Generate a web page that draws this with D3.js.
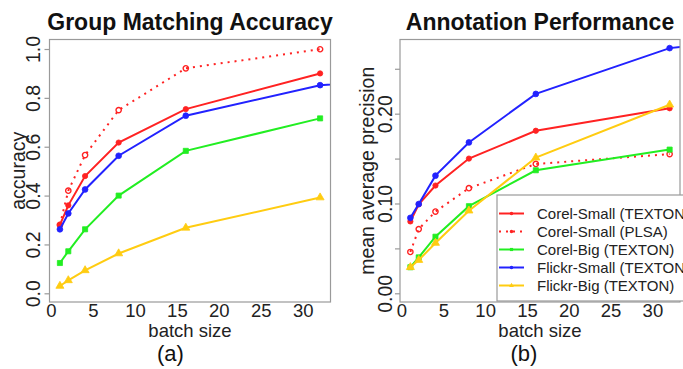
<!DOCTYPE html>
<html>
<head>
<meta charset="utf-8">
<script src="https://cdn.jsdelivr.net/npm/d3@7"></script>
<style>
  body { margin: 0; background: #fff; }
  text { font-family: "Liberation Sans", Arial, sans-serif; }
</style>
</head>
<body>
<div id="chart"></div>
<script>
// batch sizes on the x axis
const batchSizes = [1, 2, 4, 8, 16, 32];
const batchSizesExt = [1, 2, 4, 8, 16, 32, 64];

// (a) group matching accuracy
const accCorelSmallTexton = [0.28, 0.36, 0.48, 0.617, 0.754, 0.90];
const accCorelSmallPlsa = [0.28, 0.42, 0.566, 0.75, 0.921, 0.999];
const accCorelBigTexton = [0.124, 0.172, 0.262, 0.40, 0.583, 0.716];
const accFlickrSmallTexton = [0.262, 0.327, 0.425, 0.563, 0.727, 0.852, 0.908];
const accFlickrBigTexton = [0.03, 0.053, 0.094, 0.163, 0.268, 0.392];

// (b) annotation performance (mean average precision)
const mapCorelSmallTexton = [0.080, 0.099, 0.120, 0.150, 0.181, 0.206];
const mapCorelSmallPlsa = [0.046, 0.0715, 0.091, 0.117, 0.144, 0.155];
const mapCorelBigTexton = [0.029, 0.040, 0.063, 0.097, 0.137, 0.160];
const mapFlickrSmallTexton = [0.084, 0.0994, 0.131, 0.168, 0.222, 0.273, 0.302];
const mapFlickrBigTexton = [0.029, 0.037, 0.056, 0.092, 0.151, 0.210];

const seriesNames = ['Corel-Small (TEXTON)', 'Corel-Small (PLSA)', 'Corel-Big (TEXTON)', 'Flickr-Small (TEXTON)', 'Flickr-Big (TEXTON)'];
const xTicks = [0, 5, 10, 15, 20, 25, 30];
const accTicks = [0, 0.2, 0.4, 0.6, 0.8, 1.0];
const mapTicks = [0, 0.05, 0.10, 0.15, 0.20, 0.25];
const mapTickLabels = [0, 0.10, 0.20];

const styles = [
  { color: '#ff2222', dash: null, symbol: d3.symbolCircle, size: 22, open: false },
  { color: '#ff2222', dash: '2,5', symbol: d3.symbolCircle, size: 22, open: true },
  { color: '#22ee22', dash: null, symbol: d3.symbolSquare, size: 26, open: false },
  { color: '#2222ff', dash: null, symbol: d3.symbolCircle, size: 26, open: false },
  { color: '#ffcc11', dash: null, symbol: d3.symbolTriangle, size: 28, open: false }
];

const svg = d3.select('#chart').append('svg')
  .attr('width', 683)
  .attr('height', 369);

function drawPanel(opt) {
  const x = d3.scaleLinear().domain([-0.24, 33.24]).range([opt.left, opt.right]);
  const y = d3.scaleLinear().domain(opt.yDomain).range([302, 39.5]);
  const g = svg.append('g');

  g.append('clipPath').attr('id', opt.id + '-clip')
    .append('rect')
    .attr('x', opt.left).attr('y', 39.5)
    .attr('width', opt.right - opt.left).attr('height', 302 - 39.5);

  const line = d3.line().x(d => x(d[0])).y(d => y(d[1]));

  opt.series.forEach((vals, i) => {
    const st = styles[i];
    const xs = vals.length > batchSizes.length ? batchSizesExt : batchSizes;
    const pts = vals.map((v, k) => [xs[k], v]);
    g.append('path')
      .attr('d', line(pts))
      .attr('fill', 'none')
      .attr('stroke', st.color)
      .attr('stroke-width', 2)
      .attr('stroke-dasharray', st.dash)
      .attr('clip-path', `url(#${opt.id}-clip)`);
    g.selectAll('.m' + i)
      .data(pts.filter(p => p[0] <= 32))
      .enter().append('path')
      .attr('transform', d => `translate(${x(d[0])},${y(d[1])})`)
      .attr('d', d3.symbol().type(st.symbol).size(st.size))
      .attr('fill', st.open ? 'none' : st.color)
      .attr('stroke', st.color)
      .attr('stroke-width', st.open ? 1.4 : 0.8);
  });

  // box
  g.append('rect')
    .attr('x', opt.left).attr('y', 39.5)
    .attr('width', opt.right - opt.left).attr('height', 302 - 39.5)
    .attr('fill', 'none')
    .attr('stroke', '#9a9a9a')
    .attr('stroke-width', 1.2);

  // y axis
  const yAxis = d3.axisLeft(y)
    .tickValues(opt.yTicks)
    .tickSize(5)
    .tickFormat(d => opt.yLabels.some(v => Math.abs(v - d) < 1e-9) ? d3.format(opt.fmt)(d) : '');
  const ya = g.append('g')
    .attr('transform', `translate(${opt.left},0)`)
    .call(yAxis);
  ya.select('.domain').remove();
  ya.selectAll('.tick line').attr('stroke', '#9a9a9a').attr('stroke-width', 1.2);
  ya.selectAll('.tick text')
    .attr('x', null).attr('dy', null)
    .attr('text-anchor', 'middle')
    .attr('fill', '#222')
    .attr('font-size', '19.5px')
    .attr('font-family', '"Liberation Sans", Arial, sans-serif')
    .attr('transform', `translate(${opt.tickLabelX - opt.left},0) rotate(-90)`);

  // x tick labels (no tick marks)
  g.selectAll('.xl')
    .data(xTicks)
    .enter().append('text')
    .attr('x', d => x(d))
    .attr('y', 317)
    .attr('text-anchor', 'middle')
    .attr('font-size', '18.5px')
    .attr('fill', '#222')
    .text(d => d);

  g.append('text')
    .attr('x', (opt.left + opt.right) / 2)
    .attr('y', 336.5)
    .attr('text-anchor', 'middle')
    .attr('font-size', '18.5px')
    .attr('fill', '#222')
    .text('batch size');

  g.append('text')
    .attr('transform', `translate(${opt.labelX},${(39.5 + 302) / 2}) rotate(-90)`)
    .attr('text-anchor', 'middle')
    .attr('font-size', '19.5px')
    .attr('fill', '#222')
    .text(opt.yTitle);

  g.append('text')
    .attr('x', opt.titleX)
    .attr('y', 30)
    .attr('text-anchor', 'middle')
    .attr('font-size', '23px')
    .attr('font-weight', 'bold')
    .attr('fill', '#111')
    .text(opt.title);

  g.append('text')
    .attr('x', opt.capX)
    .attr('y', 361)
    .attr('text-anchor', 'middle')
    .attr('font-size', '22px')
    .attr('font-family', '"Liberation Serif", "Times New Roman", serif')
    .attr('fill', '#111')
    .text(opt.caption);

  return g;
}

drawPanel({
  id: 'pa', left: 49.5, right: 330.5, yDomain: [-0.0356, 1.0389],
  series: [accCorelSmallTexton, accCorelSmallPlsa, accCorelBigTexton, accFlickrSmallTexton, accFlickrBigTexton],
  yTicks: accTicks, yLabels: accTicks, fmt: '.1f',
  tickLabelX: 40, labelX: 25, yTitle: 'accuracy',
  title: 'Group Matching Accuracy', titleX: 190, caption: '(a)', capX: 170.5
});

const pb = drawPanel({
  id: 'pb', left: 400, right: 680, yDomain: [-0.0097, 0.2826],
  series: [mapCorelSmallTexton, mapCorelSmallPlsa, mapCorelBigTexton, mapFlickrSmallTexton, mapFlickrBigTexton],
  yTicks: mapTicks, yLabels: mapTickLabels, fmt: '.2f',
  tickLabelX: 392, labelX: 373.5, yTitle: 'mean average precision',
  title: 'Annotation Performance', titleX: 540, caption: '(b)', capX: 524
});

// legend
const legend = pb.append('g');
legend.append('rect')
  .attr('x', 497).attr('y', 195)
  .attr('width', 220).attr('height', 106)
  .attr('fill', '#fff')
  .attr('stroke', '#9a9a9a')
  .attr('stroke-width', 1.2);

const rows = legend.selectAll('.row')
  .data(seriesNames)
  .enter().append('g')
  .attr('transform', (d, i) => `translate(0,${213.5 + i * 18})`);

rows.append('line')
  .attr('x1', 499).attr('x2', 524)
  .attr('stroke', (d, i) => styles[i].color)
  .attr('stroke-width', 2)
  .attr('stroke-dasharray', (d, i) => styles[i].dash);

rows.append('path')
  .attr('transform', 'translate(511.5,0)')
  .attr('d', (d, i) => d3.symbol().type(styles[i].symbol).size(10)())
  .attr('fill', (d, i) => styles[i].color);

rows.append('text')
  .attr('x', 537)
  .attr('y', 5.3)
  .attr('font-size', '15px')
  .attr('fill', '#222')
  .text(d => d);
</script>
</body>
</html>
